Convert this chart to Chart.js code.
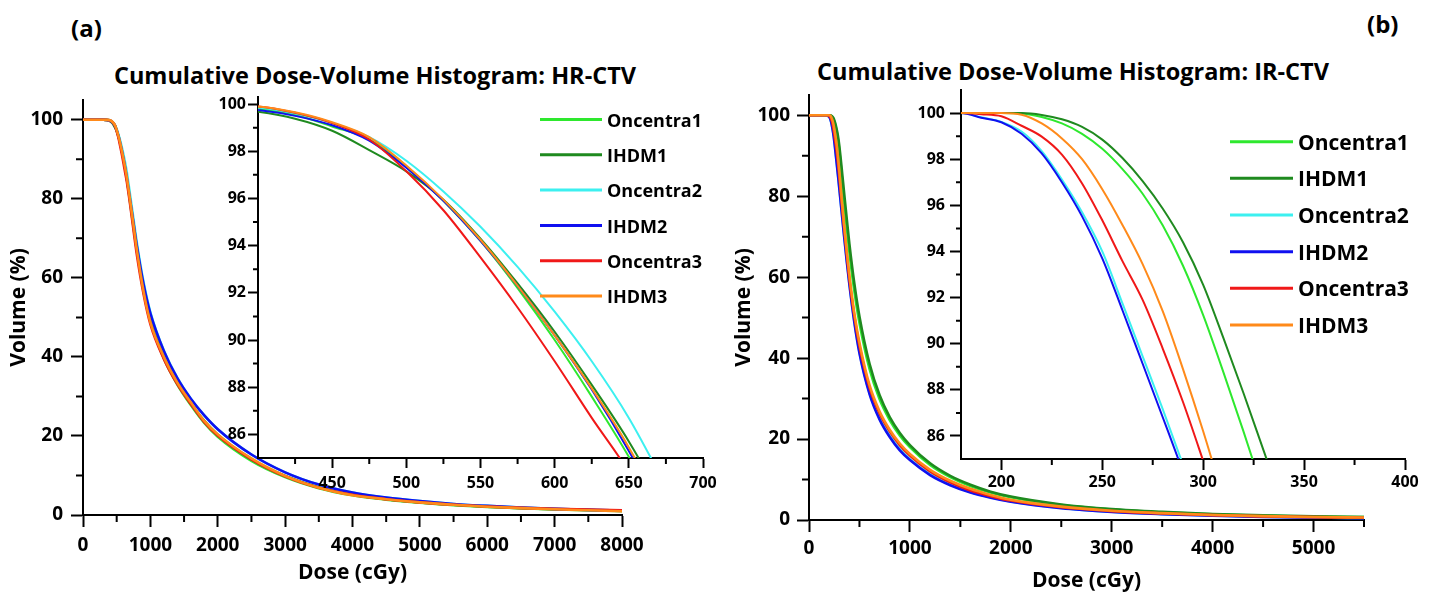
<!DOCTYPE html>
<html>
<head>
<meta charset="utf-8">
<title>Cumulative Dose-Volume Histogram</title>
<script src="https://cdn.jsdelivr.net/npm/chart.js"></script>
<style>
  body { margin: 0; background: #fff; }
  #page { position: relative; width: 1433px; height: 594px; overflow: hidden; font-family: "Open Sans", sans-serif; font-weight: bold; color: #000; }
  #page canvas, #page .txt { position: absolute; }
  .txt { white-space: nowrap; }
  .tag { font-size: 24px; line-height: 30px; }
  .ttl { font-size: 23.5px; line-height: 30px; width: 600px; text-align: center; }
</style>
</head>
<body>
<div id="page">
  <div class="txt tag" style="left:71px;top:13px">(a)</div>
  <div class="txt tag" style="left:1367px;top:9px">(b)</div>
  <div class="txt ttl" style="left:75px;top:60px">Cumulative Dose-Volume Histogram: HR-CTV</div>
  <div class="txt ttl" style="left:773px;top:56px">Cumulative Dose-Volume Histogram: IR-CTV</div>
  <canvas id="hr-main" width="700" height="594" style="left:0;top:0"></canvas>
  <canvas id="hr-zoom" width="560" height="430" style="left:180px;top:80px"></canvas>
  <canvas id="ir-main" width="680" height="594" style="left:720px;top:0"></canvas>
  <canvas id="ir-zoom" width="553" height="440" style="left:880px;top:70px"></canvas>
</div>
<script>
// ------------- data --------------------------- //

var seriesNames = ["Oncentra1", "IHDM1", "Oncentra2", "IHDM2", "Oncentra3", "IHDM3"]
var seriesColors = ["#2ee82e", "#1f8a1f", "#3cf0f0", "#1010f0", "#f01818", "#ff8a1a"]

// HR-CTV, dose in cGy, volume in %
var doseA = [0, 300, 350, 400, 425, 450, 475, 500, 525, 550, 575, 600, 625, 650, 675, 700, 750, 800, 900, 1000, 1200, 1400, 1600, 1800, 2000, 2500, 3000, 3500, 4000, 4500, 5000, 5500, 6000, 6500, 7000, 7500, 8000]
var hrOncentra1 = [100, 100, 99.97, 99.80, 99.55, 99.05, 98.50, 97.35, 95.90, 94.20, 92.20, 90.00, 87.60, 85.05, 82.10, 79.0, 72.8, 66.8, 56.5, 49.0, 39.6, 33.0, 27.8, 23.3, 19.8, 13.7, 9.6, 6.8, 5.0, 3.9, 3.1, 2.5, 2.05, 1.7, 1.4, 1.2, 1.0]
var hrIHDM1 = [100, 100, 99.95, 99.67, 99.38, 98.87, 98.05, 97.15, 95.95, 94.30, 92.40, 90.35, 88.10, 85.70, 82.90, 79.8, 73.5, 67.5, 57.3, 49.8, 40.3, 33.6, 28.3, 23.8, 20.3, 14.1, 9.9, 7.0, 5.2, 4.0, 3.2, 2.6, 2.1, 1.75, 1.45, 1.25, 1.05]
var hrOncentra2 = [100, 100, 99.98, 99.85, 99.60, 99.20, 98.60, 97.60, 96.30, 94.80, 93.10, 91.20, 89.10, 86.70, 83.80, 80.8, 74.8, 68.8, 58.8, 51.3, 41.6, 34.7, 29.4, 25.2, 21.7, 15.3, 10.8, 7.7, 5.7, 4.4, 3.5, 2.8, 2.3, 1.9, 1.55, 1.3, 1.1]
var hrIHDM2 = [100, 100, 99.96, 99.75, 99.50, 99.10, 98.45, 97.30, 95.90, 94.20, 92.30, 90.20, 87.90, 85.30, 82.40, 79.5, 73.8, 68.0, 58.3, 51.0, 41.5, 34.6, 29.4, 25.2, 21.7, 15.3, 10.8, 7.7, 5.7, 4.4, 3.5, 2.8, 2.3, 1.9, 1.55, 1.3, 1.1]
var hrOncentra3 = [100, 100, 99.98, 99.90, 99.63, 99.20, 98.50, 97.15, 95.50, 93.50, 91.38, 89.10, 86.70, 84.40, 81.50, 78.5, 72.0, 65.8, 55.8, 48.3, 39.5, 33.1, 28.1, 23.5, 20.1, 14.1, 9.8, 6.9, 5.1, 4.0, 3.2, 2.6, 2.15, 1.8, 1.55, 1.35, 1.2]
var hrIHDM3 = [100, 100, 99.98, 99.90, 99.65, 99.23, 98.60, 97.40, 95.95, 94.25, 92.30, 90.20, 87.95, 85.45, 82.50, 79.5, 73.3, 67.0, 56.5, 48.8, 40.0, 33.5, 28.5, 23.8, 20.4, 14.3, 9.9, 6.9, 5.0, 4.0, 3.2, 2.6, 2.1, 1.75, 1.45, 1.2, 0.95]

// IR-CTV
var doseB = [0, 150, 180, 190, 200, 210, 220, 230, 240, 250, 260, 270, 280, 290, 300, 310, 320, 330, 340, 350, 375, 400, 450, 500, 600, 700, 800, 900, 1000, 1200, 1400, 1600, 1800, 2000, 2500, 3000, 3500, 4000, 4500, 5000, 5500]
var irOncentra1 = [100, 100, 100, 100, 100, 99.98, 99.83, 99.55, 99.10, 98.45, 97.57, 96.50, 95.12, 93.38, 91.24, 88.77, 86.19, 83.5, 80.8, 78.2, 72.0, 66.2, 56.5, 48.7, 37.3, 29.8, 24.7, 20.9, 18.0, 13.6, 10.6, 8.4, 6.8, 5.6, 3.7, 2.6, 1.9, 1.4, 1.05, 0.85, 0.7]
var irIHDM1 = [100, 100, 100, 100, 100, 100, 99.92, 99.73, 99.40, 98.85, 98.05, 97.05, 95.85, 94.40, 92.55, 90.25, 87.85, 85.35, 82.85, 80.35, 74.2, 68.3, 58.3, 50.3, 38.6, 30.8, 25.4, 21.5, 18.5, 14.0, 10.9, 8.7, 7.0, 5.8, 3.85, 2.7, 2.0, 1.5, 1.15, 0.9, 0.75]
var irOncentra2 = [100, 100, 100, 99.82, 99.62, 99.20, 98.35, 97.12, 95.70, 94.00, 91.75, 89.45, 87.15, 84.75, 82.30, 79.80, 77.30, 74.80, 72.30, 69.90, 64.0, 58.5, 49.0, 41.5, 31.4, 25.1, 20.8, 17.5, 15.0, 11.3, 8.75, 6.9, 5.6, 4.6, 3.0, 2.05, 1.5, 1.1, 0.82, 0.62, 0.5]
var irIHDM2 = [100, 100, 100, 99.80, 99.60, 99.10, 98.25, 97.00, 95.52, 93.70, 91.45, 89.13, 86.80, 84.45, 82.00, 79.50, 77.00, 74.50, 72.00, 69.60, 63.7, 58.2, 48.7, 41.2, 31.1, 24.8, 20.5, 17.2, 14.8, 11.1, 8.6, 6.8, 5.5, 4.5, 2.9, 2.0, 1.45, 1.05, 0.78, 0.6, 0.45]
var irOncentra3 = [100, 100, 100, 99.95, 99.86, 99.45, 98.98, 98.20, 96.95, 95.35, 93.58, 91.90, 89.78, 87.47, 84.92, 82.30, 79.60, 76.90, 74.20, 71.60, 65.4, 59.6, 50.2, 43.0, 32.7, 26.3, 21.9, 18.5, 15.9, 12.0, 9.3, 7.3, 5.9, 4.8, 3.15, 2.2, 1.6, 1.2, 0.9, 0.7, 0.55]
var irIHDM3 = [100, 100, 100, 100, 100, 99.93, 99.55, 98.90, 98.00, 96.70, 95.15, 93.45, 91.40, 88.90, 86.20, 83.30, 80.40, 77.60, 74.90, 72.30, 66.2, 60.5, 51.0, 43.8, 33.3, 26.8, 22.3, 18.9, 16.3, 12.4, 9.7, 7.7, 6.2, 5.0, 3.3, 2.3, 1.7, 1.25, 0.95, 0.75, 0.6]

// tick values
var volTicks = [0, 20, 40, 60, 80, 100]
var volMinor = [10, 30, 50, 70, 90]
var zoomVolTicks = [86, 88, 90, 92, 94, 96, 98, 100]
var zoomVolMinor = [87, 89, 91, 93, 95, 97, 99]
var hrDoseTicks = [0, 1000, 2000, 3000, 4000, 5000, 6000, 7000, 8000]
var hrDoseMinor = [500, 1500, 2500, 3500, 4500, 5500, 6500, 7500]
var hrZoomTicks = [450, 500, 550, 600, 650, 700]
var hrZoomMinor = [425, 475, 525, 575, 625, 675]
var irDoseTicks = [0, 1000, 2000, 3000, 4000, 5000]
var irDoseMinor = [500, 1500, 2500, 3500, 4500, 5500]
var irZoomTicks = [200, 250, 300, 350, 400]
var irZoomMinor = [225, 275, 325, 375]

// ------------- helpers --------------------------- //

function boldFont(size) {
    return { family: "'Open Sans', sans-serif", size: size, weight: "bold" }
}

function makeSets(dose, volumes, width) {
    return volumes.map(function (vol, i) {
        return {
            label: seriesNames[i],
            data: dose.map(function (d, j) { return { x: d, y: vol[j] } }),
            borderColor: seriesColors[i],
            backgroundColor: seriesColors[i],
            borderWidth: width,
            pointRadius: 0,
            fill: false,
            cubicInterpolationMode: "monotone",
            order: volumes.length - 1 - i
        }
    })
}

function doseAxis(min, max, ticks, o) {
    return {
        type: "linear", position: "bottom", min: min, max: max,
        afterBuildTicks: function (s) { s.ticks = ticks.map(function (v) { return { value: v } }) },
        afterFit: function (s) { s.height = o.size; s.paddingLeft = 0; s.paddingRight = 0; s.paddingTop = 0; s.paddingBottom = 0 },
        grid: { drawOnChartArea: false, tickLength: o.tick, tickWidth: 2, tickColor: "#000" },
        border: { color: "#000", width: 2 },
        ticks: { color: "#000", padding: o.pad, autoSkip: false, maxRotation: 0, font: boldFont(o.font), callback: function (v) { return String(v) } },
        title: { display: !!o.title, text: o.title || "", color: "#000", font: boldFont(21), padding: { top: 0, bottom: o.titlePad || 0 } }
    }
}

function volAxis(min, max, ticks, o) {
    return {
        type: "linear", position: "left", min: min, max: max,
        afterBuildTicks: function (s) { s.ticks = ticks.map(function (v) { return { value: v } }) },
        afterFit: function (s) { s.width = o.size; s.paddingLeft = 0; s.paddingRight = 0; s.paddingTop = 0; s.paddingBottom = 0 },
        grid: { drawOnChartArea: false, tickLength: o.tick, tickWidth: 2, tickColor: "#000" },
        border: { color: "#000", width: 2 },
        ticks: { color: "#000", padding: o.pad, autoSkip: false, font: boldFont(o.font), callback: function (v) { return String(v) } },
        title: { display: !!o.title, text: o.title || "", color: "#000", font: boldFont(21), padding: { top: o.titlePad || 0, bottom: 0 } }
    }
}

// short unlabeled ticks between the labeled ones
var minorTicks = {
    id: "minorTicks",
    afterDraw: function (chart, args, opts) {
        var ctx = chart.ctx
        var area = chart.chartArea
        var xs = opts.x || []
        var ys = opts.y || []
        ctx.save()
        ctx.strokeStyle = "#000"
        ctx.lineWidth = 2
        ctx.beginPath()
        xs.forEach(function (v) {
            var px = chart.scales.x.getPixelForValue(v)
            ctx.moveTo(px, area.bottom)
            ctx.lineTo(px, area.bottom + opts.xLen)
        })
        ys.forEach(function (v) {
            var py = chart.scales.y.getPixelForValue(v)
            ctx.moveTo(area.left, py)
            ctx.lineTo(area.left - opts.yLen, py)
        })
        ctx.stroke()
        ctx.restore()
    }
}

// legend drawn inside the zoomed plot
var insetLegend = {
    id: "insetLegend",
    afterDraw: function (chart, args, opts) {
        if (!opts.size) return
        var ctx = chart.ctx
        ctx.save()
        ctx.font = "bold " + opts.size + "px 'Open Sans', sans-serif"
        ctx.textBaseline = "middle"
        ctx.textAlign = "left"
        chart.data.datasets.forEach(function (ds, i) {
            var y = opts.top + i * opts.step
            ctx.strokeStyle = ds.borderColor
            ctx.lineWidth = 3
            ctx.beginPath()
            ctx.moveTo(opts.left, y)
            ctx.lineTo(opts.left + opts.line, y)
            ctx.stroke()
            ctx.fillStyle = "#000"
            ctx.fillText(ds.label, opts.left + opts.line + opts.gap, y + 2)
        })
        ctx.restore()
    }
}

function baseOptions(padding, scales, minor, legend) {
    return {
        responsive: false,
        animation: false,
        events: [],
        layout: { padding: padding },
        scales: scales,
        plugins: {
            legend: { display: false },
            tooltip: { enabled: false },
            title: { display: false },
            minorTicks: minor,
            insetLegend: legend || {}
        }
    }
}

// ------------- HR-CTV --------------------------- //

var hrMainChart = new Chart("hr-main", {
    type: "line",
    data: { datasets: makeSets(doseA, [hrOncentra1, hrIHDM1, hrOncentra2, hrIHDM2, hrOncentra3, hrIHDM3], 2.6) },
    options: baseOptions(
        { top: 100, right: 78, left: 0, bottom: 0 },
        {
            x: doseAxis(0, 8000, hrDoseTicks, { size: 79, tick: 12, pad: 7, font: 19, title: "Dose (cGy)", titlePad: 8 }),
            y: volAxis(0, 105, volTicks, { size: 83, tick: 12, pad: 8, font: 19, title: "Volume (%)", titlePad: 6 })
        },
        { x: hrDoseMinor, y: volMinor, xLen: 7, yLen: 7 }
    ),
    plugins: [minorTicks]
});

var hrZoomChart = new Chart("hr-zoom", {
    type: "line",
    data: { datasets: makeSets(doseA, [hrOncentra1, hrIHDM1, hrOncentra2, hrIHDM2, hrOncentra3, hrIHDM3], 2) },
    options: baseOptions(
        { top: 17, right: 37, left: 0, bottom: 0 },
        {
            x: doseAxis(400, 700, hrZoomTicks, { size: 52, tick: 10, pad: 6, font: 16 }),
            y: volAxis(85, 100.3, zoomVolTicks, { size: 78, tick: 10, pad: 2, font: 16 })
        },
        { x: hrZoomMinor, y: zoomVolMinor, xLen: 6, yLen: 5 },
        { left: 360, top: 39.5, step: 35.3, line: 62, gap: 5, size: 18 }
    ),
    plugins: [minorTicks, insetLegend]
});

// ------------- IR-CTV --------------------------- //

var irMainChart = new Chart("ir-main", {
    type: "line",
    data: { datasets: makeSets(doseB, [irOncentra1, irIHDM1, irOncentra2, irIHDM2, irOncentra3, irIHDM3], 2.6) },
    options: baseOptions(
        { top: 95, right: 36, left: 0, bottom: 0 },
        {
            x: doseAxis(0, 5500, irDoseTicks, { size: 74, tick: 12, pad: 5, font: 19, title: "Dose (cGy)", titlePad: 0 }),
            y: volAxis(0, 105, volTicks, { size: 89, tick: 12, pad: 7, font: 19, title: "Volume (%)", titlePad: 11 })
        },
        { x: irDoseMinor, y: volMinor, xLen: 7, yLen: 7 }
    ),
    plugins: [minorTicks]
});

var irZoomChart = new Chart("ir-zoom", {
    type: "line",
    data: { datasets: makeSets(doseB, [irOncentra1, irIHDM1, irOncentra2, irIHDM2, irOncentra3, irIHDM3], 2) },
    options: baseOptions(
        { top: 20, right: 28, left: 0, bottom: 0 },
        {
            x: doseAxis(180, 400, irZoomTicks, { size: 51, tick: 11, pad: 3, font: 16 }),
            y: volAxis(85, 101, zoomVolTicks, { size: 81, tick: 11, pad: 5, font: 16 })
        },
        { x: irZoomMinor, y: zoomVolMinor, xLen: 6, yLen: 5 },
        { left: 350, top: 71.7, step: 36.66, line: 63, gap: 5, size: 21 }
    ),
    plugins: [minorTicks, insetLegend]
});
</script>
</body>
</html>
